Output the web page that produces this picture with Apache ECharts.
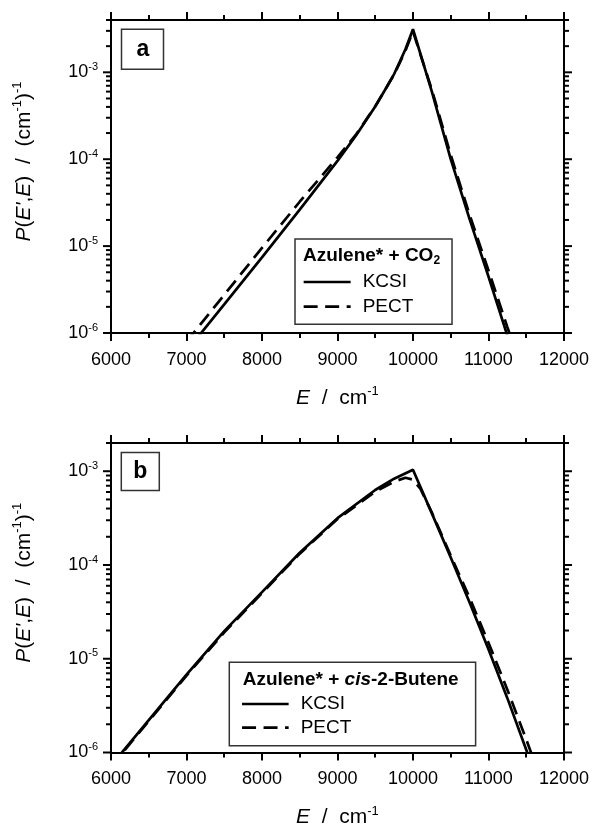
<!DOCTYPE html>
<html><head><meta charset="utf-8">
<script src="https://cdn.jsdelivr.net/npm/echarts@6/dist/echarts.min.js"></script>
<style>html,body{margin:0;padding:0;background:#fff}#c{width:592px;height:829px}</style>
</head><body><div id="c"></div>
<script>
// ---- data ----
const xTickLabels = [6000, 7000, 8000, 9000, 10000, 11000, 12000];
const yDecades = [1e-6, 1e-5, 1e-4, 1e-3];
const minorMultipliers = [1, 2, 3, 4, 5, 6, 7, 8, 9];

// Panel a: Azulene* + CO2
const energyA = [7000, 7500, 8000, 8500, 9000, 9250, 9500, 9625, 9750, 9825, 9900, 10000, 10250, 10500, 10750, 11000, 11250, 11400];
const kcsiA   = [6.17e-7, 2.14e-6, 7.41e-6, 2.63e-5, 9.55e-5, 1.905e-4, 4.03e-4, 6.17e-4, 9.55e-4, 1.32e-3, 1.84e-3, 3.13e-3, 6.0e-4, 1.0e-4, 2.04e-5, 4.47e-6, 9.33e-7, 3.8e-7];
const pectA   = [7.94e-7, 2.75e-6, 9.55e-6, 3.24e-5, 1.05e-4, 1.95e-4, 4.07e-4, 6.17e-4, 9.44e-4, 1.29e-3, 1.78e-3, 2.95e-3, 6.31e-4, 1.12e-4, 2.29e-5, 5.25e-6, 1.17e-6, 5.0e-7];

// Panel b: Azulene* + cis-2-Butene
const energyBK = [6000, 6500, 7000, 7500, 8000, 8500, 9000, 9500, 9750, 10000, 10250, 10500, 10750, 11000, 11250, 11500, 11650];
const kcsiB    = [7.24e-7, 2.21e-6, 6.76e-6, 1.97e-5, 5.13e-5, 1.35e-4, 3.16e-4, 6.31e-4, 8.32e-4, 1.035e-3, 3.55e-4, 1.20e-4, 3.98e-5, 1.26e-5, 3.80e-6, 1.07e-6, 5.0e-7];
const energyBP = [6000, 6500, 7000, 7500, 8000, 8500, 9000, 9500, 9750, 9900, 10000, 10100, 10250, 10500, 10750, 11000, 11250, 11500, 11700];
const pectB    = [7.08e-7, 2.16e-6, 6.61e-6, 1.91e-5, 5.01e-5, 1.32e-4, 3.09e-4, 6.03e-4, 7.76e-4, 8.51e-4, 8.13e-4, 6.46e-4, 3.63e-4, 1.26e-4, 4.47e-5, 1.48e-5, 4.68e-6, 1.38e-6, 5.0e-7];

const yMaxA = 4e-3, yMaxB = 2e-3;

// ---- chart ----
const font = '"Liberation Sans", Arial, sans-serif';
const zip = (xs, ys) => xs.map((x, i) => [x, ys[i]]);
const tickVals = (max) => {
  const out = [];
  yDecades.forEach(d => minorMultipliers.forEach(m => { const v = m * d; if (v <= max * 1.0001) out.push(v); }));
  return out;
};
function supLabel(v) {
  const e = Math.log10(v), r = Math.round(e);
  if (Math.abs(e - r) > 1e-6) return '';
  return '{b|10}{s|' + r + '}';
}
const yLabelRich = {
  b: { fontSize: 18, fontFamily: font, color: '#000', lineHeight: 22 },
  s: { fontSize: 11, fontFamily: font, color: '#000', verticalAlign: 'top', lineHeight: 11 }
};
const nameRich = {
  n: { fontSize: 21, fontFamily: font, color: '#000', lineHeight: 26 },
  i: { fontSize: 21, fontFamily: font, color: '#000', fontStyle: 'italic', lineHeight: 26 },
  s: { fontSize: 13, fontFamily: font, color: '#000', verticalAlign: 'top', lineHeight: 13 }
};
const xName = '{i|E}{n|  /  cm}{s|-1}';
const yName = "{i|P}{n|(}{i|E'}{n|,}{i|E}{n|)  /  (cm}{s|-1}{n|)}{s|-1}";

function xAx(gi, pos, showLabel, withName) {
  return {
    type: 'value', gridIndex: gi, position: pos, min: xTickLabels[0], max: xTickLabels[xTickLabels.length - 1], interval: 1000,
    axisLine: { onZero: false, lineStyle: { color: '#000', width: 2 } },
    axisTick: { show: true, inside: false, length: 8, lineStyle: { color: '#000', width: 2 } },
    minorTick: { show: true, splitNumber: 2, length: 5, lineStyle: { color: '#000', width: 2 } },
    splitLine: { show: false }, minorSplitLine: { show: false },
    axisLabel: { show: showLabel, margin: 18, fontSize: 18, color: '#000', fontFamily: font, formatter: v => String(v) },
    name: withName ? xName : '', nameLocation: 'middle', nameGap: 52,
    nameTextStyle: { rich: nameRich }
  };
}
function yAx(gi, pos, max, showLabel) {
  return {
    type: 'log', logBase: 10, gridIndex: gi, position: pos, min: 1e-6, max: max,
    axisLine: { show: true, onZero: false, lineStyle: { color: '#000', width: 2 } },
    axisTick: { show: false }, minorTick: { show: false },
    splitLine: { show: false }, minorSplitLine: { show: false },
    axisLabel: { show: showLabel, formatter: supLabel, margin: 13, rich: yLabelRich },
    name: showLabel ? yName : '', nameLocation: 'middle', nameGap: 74, nameRotate: 90,
    nameTextStyle: { rich: nameRich, padding: [0, 0, 0, 30] }
  };
}
function tickSeries(xi, yi, vals) {
  return {
    type: 'custom', xAxisIndex: xi, yAxisIndex: yi, silent: true, clip: false, z: 5,
    data: vals.map(v => [xTickLabels[0], v]),
    renderItem(params, api) {
      const v = api.value(1);
      const p = api.coord([xTickLabels[0], v]);
      const q = api.coord([xTickLabels[xTickLabels.length - 1], v]);
      const e = Math.log10(v), major = Math.abs(e - Math.round(e)) < 1e-6;
      const L = major ? 8 : 5;
      return { type: 'group', children: [
        { type: 'line', shape: { x1: p[0] - L, y1: p[1], x2: p[0], y2: p[1] }, style: { stroke: '#000', lineWidth: 2 } },
        { type: 'line', shape: { x1: q[0], y1: q[1], x2: q[0] + L, y2: q[1] }, style: { stroke: '#000', lineWidth: 2 } }
      ]};
    }
  };
}
const solid = { color: '#000', width: 2.7 };
const dashed = { color: '#000', width: 2.7, type: [14, 7.5] };
function lineSeries(name, xi, yi, data, ls) {
  return { name, type: 'line', xAxisIndex: xi, yAxisIndex: yi, data, symbol: 'none', showSymbol: false,
    lineStyle: ls, itemStyle: { color: '#000' }, clip: true, z: 3, animation: false };
}
const legendText = { fontSize: 19, lineHeight: 22, color: '#000', fontFamily: font, padding: [0, 0, 0, 7] };
const headRich = {
  b: { fontSize: 19, fontWeight: 'bold', fontFamily: font, color: '#000', lineHeight: 22 },
  bi: { fontSize: 19, fontWeight: 'bold', fontStyle: 'italic', fontFamily: font, color: '#000', lineHeight: 22 },
  sub: { fontSize: 12, fontWeight: 'bold', fontFamily: font, color: '#000', verticalAlign: 'bottom', lineHeight: 6 }
};
const boxText = { fontSize: 23, fontWeight: 'bold', lineHeight: 24, color: '#000', fontFamily: font };
const legendLine = { width: 2.7, color: '#000', type: 'inherit' };

const option = {
  backgroundColor: '#fff',
  animation: false,
  grid: [
    { left: 111, top: 20, width: 454, height: 313 },
    { left: 111, top: 443, width: 454, height: 312.5 }
  ],
  xAxis: [xAx(0, 'bottom', true, true), xAx(0, 'top', false, false), xAx(1, 'bottom', true, true), xAx(1, 'top', false, false)],
  yAxis: [yAx(0, 'left', yMaxA, true), yAx(0, 'right', yMaxA, false), yAx(1, 'left', yMaxB, true), yAx(1, 'right', yMaxB, false)],
  title: [
    { text: 'a', left: 121.7, top: 29.3, padding: [8, 14.8], borderColor: '#333', borderWidth: 1.5, textStyle: boxText },
    { text: 'b', left: 120.7, top: 452.3, padding: [7.3, 12.6], borderColor: '#333', borderWidth: 1.5, textStyle: boxText },
    { text: '{b|Azulene* + CO}{sub|2}', left: 303, top: 245, padding: 0, textStyle: { rich: headRich } },
    { text: '{b|Azulene* + }{bi|cis}{b|-2-Butene}', left: 242.7, top: 669, padding: 0, textStyle: { rich: headRich } }
  ],
  legend: [
    { data: ['KCSI', 'PECT'], orient: 'vertical', left: 295, top: 239, padding: [32, 38.7, 6.6, 7.3],
      itemWidth: 47, itemHeight: 14, itemGap: 2.7, borderColor: '#333', borderWidth: 1.5,
      textStyle: legendText, itemStyle: { opacity: 0 }, lineStyle: legendLine, selectedMode: false },
    { data: ['KCSI', 'PECT'], orient: 'vertical', left: 229.3, top: 662.3, padding: [30.7, 124.3, 7, 11.4],
      itemWidth: 46.6, itemHeight: 14, itemGap: 1.7, borderColor: '#333', borderWidth: 1.5,
      textStyle: legendText, itemStyle: { opacity: 0 }, lineStyle: legendLine, selectedMode: false }
  ],
  series: [
    lineSeries('KCSI', 0, 0, zip(energyA, kcsiA), solid),
    lineSeries('PECT', 0, 0, zip(energyA, pectA), dashed),
    lineSeries('KCSI', 2, 2, zip(energyBK, kcsiB), solid),
    lineSeries('PECT', 2, 2, zip(energyBP, pectB), dashed),
    tickSeries(0, 0, tickVals(yMaxA)),
    tickSeries(2, 2, tickVals(yMaxB))
  ]
};
const chart = echarts.init(document.getElementById('c'), null, { renderer: 'canvas' });
chart.setOption(option);
</script>
</body></html>
